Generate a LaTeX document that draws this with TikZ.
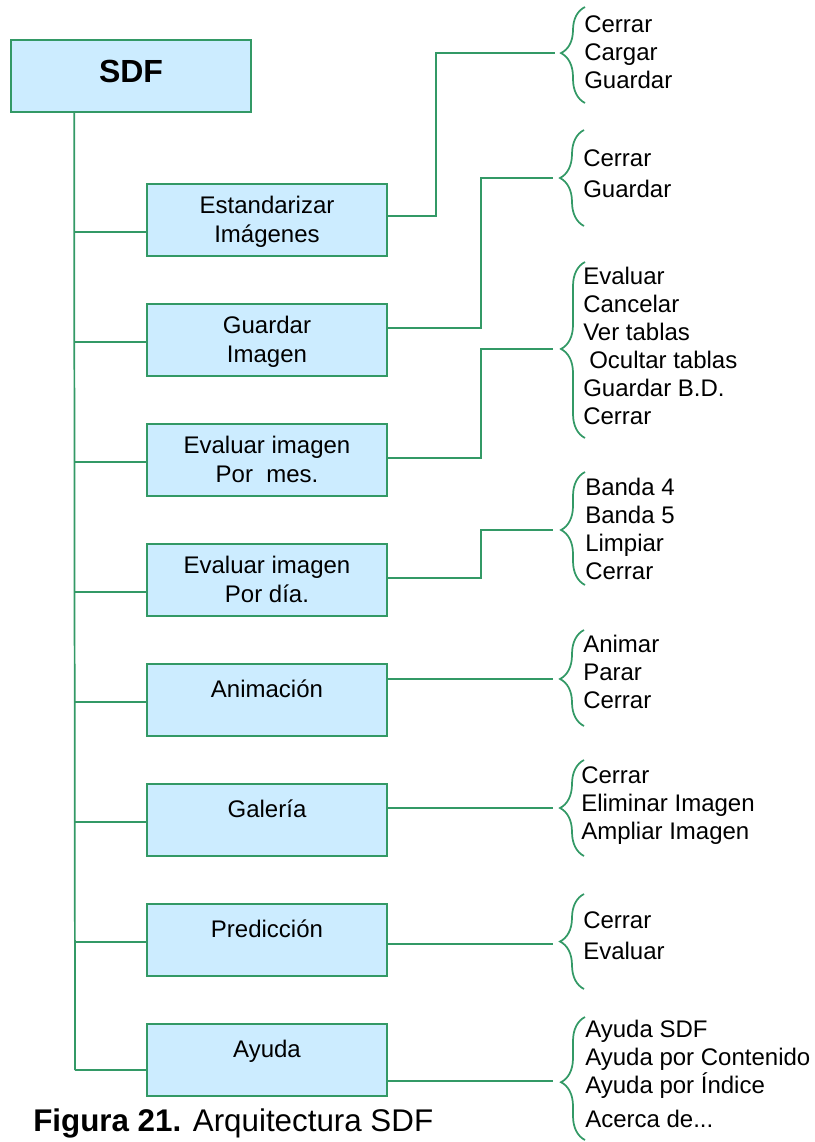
\documentclass[tikz,border=0pt]{standalone}
\usepackage{fontspec}
\setmainfont{Liberation Sans}
\usepackage{tikz}
\usetikzlibrary{calc,decorations.pathreplacing}
\definecolor{verdeLinea}{HTML}{339966}
\definecolor{celeste}{HTML}{CCECFF}

\begin{document}
\begin{tikzpicture}[x=0.75pt,y=-0.75pt,
  linea/.style={verdeLinea,line width=1.3pt},
  cajaBase/.style={draw=verdeLinea,line width=1.3pt,fill=celeste,minimum width=180pt,minimum height=54pt,inner sep=0pt},
  caja/.style={cajaBase,align=center,font=\fontsize{18}{21.75}\selectfont,text height=37pt,text depth=4pt},
  caja una/.style={cajaBase,font=\fontsize{18}{21.75}\selectfont,text height=13.5pt,text depth=17.5pt},
  cajaSDF/.style={cajaBase,font=\fontsize{24}{28}\selectfont\bfseries,text height=17pt,text depth=8pt},
  lista/.style={anchor=base west,inner sep=0pt,align=left,font=\fontsize{18}{21}\selectfont},
  llave/.style={linea,decorate,decoration={brace,amplitude=18pt,aspect=#1}}]
\useasboundingbox (0,0) rectangle (814,1142);

% cajas
\node[cajaSDF] (sdf) at (131,76) {SDF};
\node[caja] (estandarizar) at (267,220) {Estandarizar\\Imágenes};
\node[caja] (guardar) at (267,340) {Guardar\\Imagen};
\node[caja] (mes) at (267,460) {Evaluar imagen\\Por\ \ mes.};
\node[caja] (dia) at (267,580) {Evaluar imagen\\Por día.};
\node[caja una] (animacion) at (267,700) {Animación};
\node[caja una] (galeria) at (267,820) {Galería};
\node[caja una] (prediccion) at (267,940) {Predicción};
\node[caja una] (ayuda) at (267,1060) {Ayuda};

% tronco
\coordinate (tronco) at ($(sdf.south west)+(64,0)$);
\coordinate (finTronco) at (75,1070);
\draw[linea] (tronco) -- (finTronco);
\draw[linea] ([yshift=-9pt]estandarizar.west) -- ([yshift=-9pt]estandarizar.west -| tronco);
\draw[linea] ([yshift=-1.5pt]guardar.west) -- ([yshift=-1.5pt]guardar.west -| tronco);
\draw[linea] ([yshift=-1.5pt]mes.west) -- ([yshift=-1.5pt]mes.west -| tronco);
\draw[linea] ([yshift=-9pt]dia.west) -- ([yshift=-9pt]dia.west -| tronco);
\draw[linea] ([yshift=-1.5pt]animacion.west) -- ([yshift=-1.5pt]animacion.west -| tronco);
\draw[linea] ([yshift=-1.5pt]galeria.west) -- ([yshift=-1.5pt]galeria.west -| tronco);
\draw[linea] ([yshift=-1.5pt]prediccion.west) -- ([yshift=-1.5pt]prediccion.west -| tronco);
\draw[linea] ([yshift=-7.5pt]ayuda.west) -- (finTronco);

% puntas de las llaves
\coordinate (ll1) at (555,53);
\coordinate (ll2) at (553,178);
\coordinate (ll3) at (553,349);
\coordinate (ll4) at (553,530);
\coordinate (ll5) at (553,679);
\coordinate (ll6) at (553,808);
\coordinate (ll7) at (553,944);
\coordinate (ll8) at (553,1081);
\draw[linea] ([yshift=3pt]estandarizar.east) -- ++(48,0) |- (ll1);
\draw[linea] ([yshift=9pt]guardar.east) -- ++(93,0) |- (ll2);
\draw[linea] ([yshift=1.5pt]mes.east) -- ++(93,0) |- (ll3);
\draw[linea] ([yshift=1.5pt]dia.east) -- ++(93,0) |- (ll4);
\draw[linea] ([yshift=15.75pt]animacion.east) -- (ll5);
\draw[linea] ([yshift=9pt]galeria.east) -- (ll6);
\draw[linea] ([yshift=-3pt]prediccion.east) -- (ll7);
\draw[linea] ([yshift=-15.75pt]ayuda.east) -- (ll8);

% llaves
\draw[llave=0.52] (585,103) -- (585,7);
\draw[llave=0.5] (584,226) -- (584,130);
\draw[llave=0.506] (585,438) -- (585,262);
\draw[llave=0.487] (585,585) -- (585,472);
\draw[llave=0.49] (584,726) -- (584,630);
\draw[llave=0.5] (584,856) -- (584,760);
\draw[llave=0.5] (584,989) -- (584,894);
\draw[llave=0.47] (585,1140) -- (585,1017);

% opciones (base = ultima linea)
\node[lista] (menu1) at (584,88) {Cerrar\\Cargar\\Guardar};
\node[lista] (menu2) at (583,197) {Cerrar\\[2.25pt]Guardar};
\node[lista] (menu3) at (583,424) {Evaluar\\Cancelar\\Ver tablas\\\hspace{4.5pt}Ocultar tablas\\Guardar B.D.\\Cerrar};
\node[lista] (menu4) at (585,579) {Banda 4\\Banda 5\\Limpiar\\Cerrar};
\node[lista] (menu5) at (583,708) {Animar\\Parar\\Cerrar};
\node[lista] (menu6) at (581,839) {Cerrar\\Eliminar Imagen\\Ampliar Imagen};
\node[lista] (menu7) at (583,959) {Cerrar\\[2.25pt]Evaluar};
\node[lista] (menu8) at (585,1127) {Ayuda SDF\\Ayuda por Contenido\\Ayuda por Índice\\[4.5pt]Acerca de...};

\node[anchor=base west,inner sep=0pt,font=\fontsize{23.5}{28}\selectfont] (pie) at (33,1131) {\textbf{Figura 21.} Arquitectura SDF};
\end{tikzpicture}
\end{document}
